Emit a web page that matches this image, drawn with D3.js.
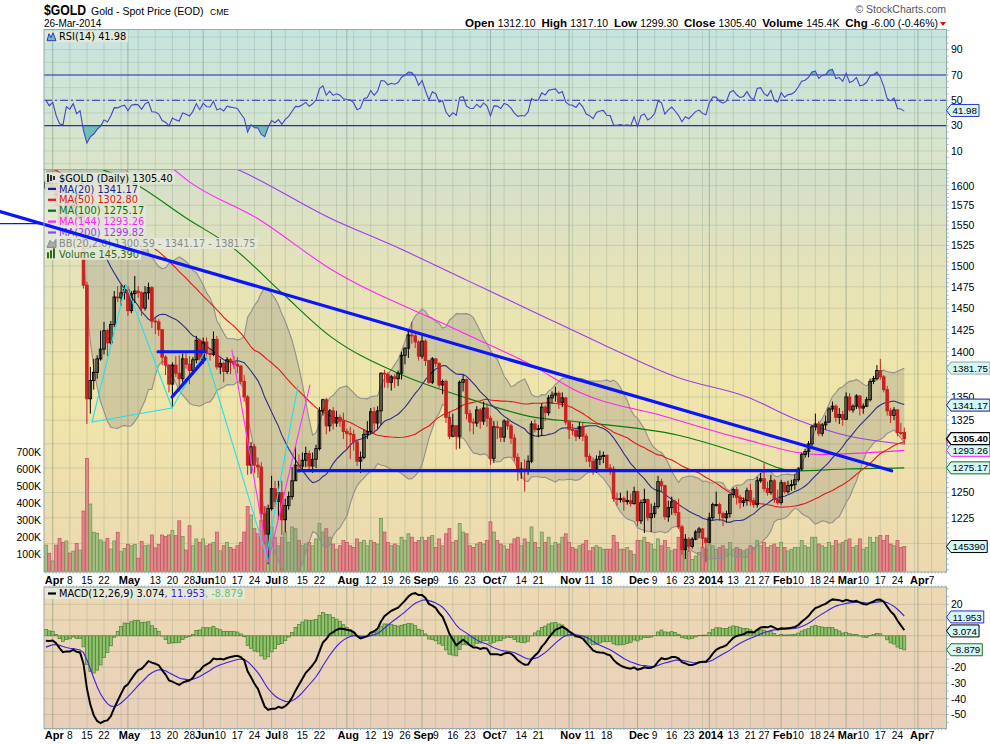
<!DOCTYPE html>
<html><head><meta charset="utf-8"><title>$GOLD</title>
<script src="https://cdn.jsdelivr.net/npm/d3@7/dist/d3.min.js"></script>
<style>html,body{margin:0;padding:0;background:#fff;}svg{display:block;}</style>
</head><body>
<svg id="chart" width="990" height="744"></svg>
<script>
// ================= DATA =================
const holidays = ["2013-03-29","2013-05-27","2013-07-04","2013-09-02","2013-11-28","2013-12-25","2014-01-01","2014-01-20","2014-02-17","2014-04-18"];
const firstDay = "2013-03-27", axisEndDay = "2014-04-11";

// closes before the first visible day (Jan 2 – Mar 26 2013), used to warm up indicators
const preCloses = [1687,1664,1656,1647,1661,1656,1676,1662,1668,1681,1681,1688,1688,1692,1685,1668,1658,1655,1662,1677,1662,
1669,1676,1673,1676,1671,1667,1649,1649,1644,1636,1610,1603,1564,1576,1582,1593,1613,1596,1578,
1575,1573,1574,1576,1582,1577,1578,1592,1588,1589,1593,1604,1612,1608,1613,1606,1605,1597];

const opens = [1597,1605,
1596,1601,1576,1553,1550,1580,1574,1585,1558,1564,1477,1348,1368,1377,1392,1403,1424,1410,1431,1463,1462,1468,
1472,1447,1467,1470,1468,1450,1468,1474,1435,1434,1425,1394,1385,1364,1385,1376,1370,1392,1386,1379,1391,1413,
1391,1411,1398,1397,1414,1383,1387,1378,1391,1388,1386,1384,1367,1350,1278,1297,1278,1276,1229,1209,
1234,1254,1241,1250,1223,1237,1246,1262,1278,1277,1283,1290,1277,1284,1295,1335,1347,1319,1335,1322,1328,1324,
1313,1311,1310,1302,1282,1286,1310,1313,1334,1322,1335,1376,1375,1366,1372,1370,1376,1396,1404,1419,1418,1411,
1395,1412,1390,1366,1392,1387,1363,1367,1328,1308,1319,1308,1366,1369,1332,1323,1322,1336,1324,1338,
1327,1285,1318,1317,1307,1324,1319,1306,1286,1272,1274,1272,1282,1321,1315,1316,1339,1333,1349,1352,1354,1344,1349,
1323,1315,1314,1308,1318,1308,1287,1282,1272,1284,1287,1288,1275,1274,1244,1243,1244,1241,1242,1239,
1251,1222,1240,1243,1225,1229,1236,1261,1257,1226,1235,1241,1230,1216,1194,1204,1197,1204,1211,1214,1205,
1201,1225,1238,1238,1229,1225,1229,1248,1253,1245,1240,1242,1252,1242,1238,1262,1264,1254,1250,1262,1243,
1240,1260,1251,1257,1258,1263,1274,1289,1292,1300,1318,1321,1311,1320,1323,1337,1340,1328,1331,
1326,1350,1336,1340,1351,1338,1340,1347,1367,1370,1379,1372,1358,1335,1330,1336,1312,1312.1];

const highs = [1607,1606,
1604,1605,1582,1563,1587,1581,1588,1589,1568,1565,1481,1383,1392,1396,1424,1434,1426,1435,1470,1476,1477,1477,
1476,1470,1488,1476,1470,1476,1480,1476,1439,1437,1426,1396,1386,1388,1395,1396,1398,1398,1395,1394,1418,1415,
1416,1416,1404,1423,1418,1392,1389,1394,1393,1395,1394,1385,1374,1352,1302,1300,1286,1281,1236,1238,
1267,1262,1262,1262,1244,1251,1276,1297,1289,1291,1297,1293,1291,1299,1339,1348,1349,1337,1339,1335,1331,1333,
1316,1318,1315,1305,1292,1315,1324,1338,1339,1340,1377,1380,1377,1374,1375,1379,1400,1405,1424,1434,1420,1413,
1421,1414,1391,1394,1393,1388,1369,1369,1334,1332,1320,1368,1374,1370,1336,1327,1340,1338,1345,1343,
1330,1324,1324,1318,1326,1326,1321,1310,1290,1281,1284,1288,1324,1326,1320,1343,1341,1352,1356,1361,1356,1355,1350,
1325,1321,1316,1323,1322,1311,1290,1286,1288,1293,1292,1289,1279,1277,1250,1250,1246,1252,1249,1256,
1252,1243,1254,1244,1239,1240,1267,1264,1258,1242,1246,1243,1244,1218,1209,1206,1206,1213,1216,1215,1206,
1230,1240,1251,1240,1231,1232,1249,1255,1256,1248,1245,1255,1259,1245,1266,1270,1280,1261,1268,1264,1253,
1263,1261,1262,1263,1269,1276,1291,1295,1303,1320,1332,1324,1322,1330,1339,1345,1342,1338,1335,
1355,1354,1342,1353,1352,1343,1350,1370,1373,1385,1392,1374,1362,1338,1339,1337,1322,1317.1];

const lows = [1593,1591,
1594,1574,1546,1539,1548,1566,1570,1555,1553,1473,1321,1332,1358,1370,1390,1397,1395,1408,1428,1457,1453,1460,
1441,1444,1456,1462,1441,1447,1460,1427,1420,1418,1385,1374,1355,1338,1372,1362,1366,1381,1364,1374,1387,1388,
1386,1392,1390,1395,1380,1375,1366,1375,1375,1381,1376,1364,1345,1268,1269,1270,1265,1221,1199,1180,
1232,1236,1223,1208,1211,1233,1243,1262,1270,1273,1276,1271,1270,1275,1293,1330,1310,1313,1315,1318,1318,1305,
1294,1284,1293,1277,1270,1284,1305,1310,1311,1316,1320,1360,1360,1357,1360,1362,1369,1386,1393,1409,1404,1390,
1392,1384,1364,1364,1383,1360,1353,1322,1305,1307,1294,1295,1356,1326,1313,1310,1318,1316,1320,1318,
1278,1280,1305,1302,1302,1315,1300,1282,1262,1264,1251,1268,1280,1312,1307,1308,1324,1330,1343,1345,1337,1339,1320,
1305,1309,1303,1305,1303,1281,1276,1268,1270,1278,1280,1272,1268,1241,1237,1240,1232,1238,1236,1238,
1217,1219,1210,1222,1211,1225,1234,1250,1223,1221,1228,1227,1214,1189,1185,1192,1195,1203,1205,1196,1182,
1200,1223,1236,1222,1217,1220,1225,1245,1238,1234,1236,1237,1237,1235,1235,1260,1251,1247,1248,1240,1238,
1238,1249,1249,1252,1253,1261,1272,1286,1286,1296,1314,1308,1308,1315,1322,1334,1323,1321,1319,
1325,1334,1333,1337,1330,1332,1339,1345,1364,1368,1369,1355,1330,1322,1325,1308,1309,1299.3];

const closes = [1605,1596,
1601,1576,1553,1550,1580,1574,1585,1558,1564,1477,1348,1368,1377,1392,1403,1424,1410,1431,1463,1462,1468,1472,
1447,1467,1470,1468,1450,1468,1474,1435,1434,1425,1394,1385,1364,1385,1376,1370,1392,1386,1379,1391,1413,1391,
1411,1398,1397,1414,1383,1387,1378,1391,1388,1386,1384,1367,1350,1278,1297,1278,1276,1229,1209,1234,
1254,1241,1250,1223,1237,1246,1262,1278,1277,1283,1290,1277,1284,1295,1335,1347,1319,1335,1322,1328,1324,1313,
1311,1310,1302,1282,1286,1310,1313,1334,1322,1335,1376,1375,1366,1372,1370,1376,1396,1404,1419,1418,1411,1395,
1412,1390,1366,1392,1387,1363,1367,1328,1308,1319,1308,1366,1369,1332,1323,1322,1336,1324,1338,1327,
1285,1318,1317,1307,1324,1319,1306,1286,1272,1274,1272,1282,1321,1315,1316,1339,1333,1349,1352,1354,1344,1349,1323,
1315,1314,1308,1318,1308,1287,1282,1272,1284,1287,1288,1275,1274,1244,1243,1244,1241,1242,1239,1251,
1222,1240,1243,1225,1229,1236,1261,1257,1226,1235,1241,1230,1216,1194,1204,1197,1204,1211,1214,1205,1201,
1225,1238,1238,1229,1225,1229,1248,1253,1245,1240,1242,1252,1242,1238,1262,1264,1254,1250,1262,1243,1240,
1260,1251,1257,1258,1263,1274,1289,1292,1300,1318,1321,1311,1320,1323,1337,1340,1328,1331,1326,
1350,1336,1340,1351,1338,1340,1347,1367,1370,1379,1372,1358,1335,1330,1336,1312,1311,1305.4];

// volume in thousands
const volumesK = [154,106,
61,154,193,170,178,107,119,164,125,353,661,394,229,223,184,172,193,131,178,229,115,135,
158,150,158,77,176,150,154,213,137,158,213,204,213,240,209,296,204,125,267,150,190,170,
190,150,160,170,230,120,150,170,140,130,150,170,230,380,330,250,220,300,380,350,
260,200,150,200,230,170,260,250,180,150,160,170,150,190,280,230,250,200,160,130,150,180,
170,150,140,190,170,180,150,180,170,160,310,230,170,150,160,150,200,180,220,200,170,180,
200,180,200,210,140,190,150,220,250,170,180,280,230,220,150,140,160,170,160,180,
290,230,180,160,150,130,160,190,200,150,190,170,260,170,140,230,170,200,150,170,160,200,220,
170,140,130,150,160,180,120,140,150,140,130,130,130,210,170,130,130,140,120,100,
180,180,200,170,160,130,190,150,180,140,120,130,200,210,150,120,70,90,110,140,130,
160,150,130,140,150,130,170,130,140,130,120,130,150,140,180,150,170,140,150,160,140,
170,140,120,130,140,140,180,150,140,200,200,160,150,140,170,150,180,160,170,
180,190,140,150,190,130,140,200,170,200,210,180,210,160,150,180,140,145.39];

// long moving averages (date, value)
const ma100Pts = [["2013-04-15",1628],["2013-05-02",1605],["2013-05-24",1559],["2013-06-14",1521],["2013-07-05",1468],["2013-07-25",1418],["2013-08-22",1376],["2013-09-20",1349],["2013-10-18",1328],["2013-11-06",1323],["2013-12-18",1309],["2014-01-17",1288],["2014-02-07",1272],["2014-03-03",1274],["2014-03-26",1275.17]];
const ma144Pts = [["2013-05-16",1630],["2013-05-28",1605],["2013-06-25",1558],["2013-07-25",1497],["2013-09-16",1427],["2013-10-17",1385],["2013-11-06",1355],["2013-12-11",1330],["2014-01-15",1306],["2014-02-19",1289],["2014-03-26",1293.26]];
const ma200Pts = [["2013-06-10",1630],["2013-06-17",1621],["2013-07-25",1559],["2013-08-22",1522],["2013-09-20",1483],["2013-10-18",1445],["2013-11-15",1408],["2013-12-18",1371],["2014-01-17",1350],["2014-02-10",1325],["2014-03-04",1308],["2014-03-26",1299.82]];

// hand-drawn annotation lines: [dayIndex1, price1, dayIndex2, price2]
const blueThick = [[-13.41,1567,247.3,1272.2],[73.7,1272.3,219.9,1272.3],[32.8,1400,46.5,1400],[36.9,1350,46.5,1392]];
const blueThin = [[-13.41,1552,-0.54,1552]];
const cyanLines = [[13.5,1323,23.4,1478],[23.4,1478,36.9,1338],[13.5,1323,36.9,1338],[36.9,1338,46.5,1400],[46.5,1400,65,1182],[64.6,1190,73.7,1362]];
const magentaLines = [[54.4,1402,64.9,1186],[65,1182,77.2,1363]];

// axis ticks
const priceTicks = [1200,1225,1250,1275,1300,1325,1350,1375,1400,1425,1450,1475,1500,1525,1550,1575,1600];
const volTicks = [100,200,300,400,500,600,700];
const rsiTicks = [10,30,50,70,90];
const macdTicks = [20,10,0,-10,-20,-30,-40,-50];
const dateTicks = [["2013-04-01","Apr"],["2013-04-08","8"],["2013-04-15","15"],["2013-04-22","22"],["2013-05-01","May"],["2013-05-13","13"],["2013-05-20","20"],["2013-05-28","28"],["2013-06-03","Jun"],["2013-06-10","10"],["2013-06-17","17"],["2013-06-24","24"],["2013-07-01","Jul"],["2013-07-08","8"],["2013-07-15","15"],["2013-07-22","22"],["2013-08-01","Aug"],["2013-08-12","12"],["2013-08-19","19"],["2013-08-26","26"],["2013-09-03","Sep"],["2013-09-09","9"],["2013-09-16","16"],["2013-09-23","23"],["2013-10-01","Oct"],["2013-10-07","7"],["2013-10-14","14"],["2013-10-21","21"],["2013-11-01","Nov"],["2013-11-11","11"],["2013-11-18","18"],["2013-12-02","Dec"],["2013-12-09","9"],["2013-12-16","16"],["2013-12-23","23"],["2014-01-02","2014"],["2014-01-13","13"],["2014-01-21","21"],["2014-01-27","27"],["2014-02-03","Feb"],["2014-02-10","10"],["2014-02-18","18"],["2014-02-24","24"],["2014-03-03","Mar"],["2014-03-10","10"],["2014-03-17","17"],["2014-03-24","24"],["2014-04-01","Apr"],["2014-04-07","7"]];

// last values printed by the chart
const lastVals = {open:"1312.10",high:"1317.10",low:"1299.30",close:"1305.40",volume:"145.4K",chg:"-6.00 (-0.46%)",
  ma20:1341.17, ma50:1302.80, ma100:1275.17, ma144:1293.26, ma200:1299.82, bbLo:1300.59, bbUp:1381.75, vol:145390,
  rsi:41.98, macd:3.074, signal:11.953, hist:-8.879};

// ================= CHART =================
const N = closes.length;
[opens,highs,lows,volumesK].forEach(a=>{ if(a.length!==N) throw new Error("length mismatch "+a.length+" vs "+N); });

const svg = d3.select("#chart");
const L = 44, R = 946.5;
const rsiT = 29.5, rsiB = 169.5, prT = 169.5, prB = 572, mcT = 587, mcB = 728.5;
const FS = "'Liberation Sans',Arial,sans-serif", FV = "'DejaVu Sans',Verdana,sans-serif";

const parse = d3.utcParse("%Y-%m-%d"), fmt = d3.utcFormat("%Y-%m-%d");
const hol = new Set(holidays);
const days = [];
for (let d = parse(firstDay); d <= parse(axisEndDay); d = d3.utcDay.offset(d, 1)) {
  const w = d.getUTCDay();
  if (w === 0 || w === 6 || hol.has(fmt(d))) continue;
  days.push(d);
}
const idx = new Map(days.map((d, i) => [fmt(d), i]));
const kOf = s => idx.get(s);

const x = d3.scaleLinear().domain([0, N - 1]).range([45.86, 45.86 + 3.42 * (N - 1)]);
const yP = d3.scaleLog().domain([1172.7, 1621.0]).range([prB, prT]);
const yV = d3.scaleLinear().domain([0, 700]).range([571.4, 451.7]);
const yR = d3.scaleLinear().domain([0, 100]).range([163.6, 37]);
const yM = d3.scaleLinear().domain([-50, 20]).range([714.5, 604.3]);

// ---- indicators (chart's own formulas) ----
const allC = preCloses.concat(closes), P = preCloses.length;
function sma(n) { return closes.map((c, k) => { const j = P + k; if (j < n - 1) return null; let s = 0; for (let t = j - n + 1; t <= j; t++) s += allC[t]; return s / n; }); }
const ma20 = sma(20), ma50 = sma(50);
const bb = closes.map((c, k) => { const j = P + k; const w = allC.slice(j - 19, j + 1); const m = d3.mean(w); const sd = Math.sqrt(d3.mean(w, v => (v - m) * (v - m))); return [m - 2 * sd, m + 2 * sd]; });
function ema(arr, n) { const a = 2 / (n + 1); let e = arr[0]; return arr.map((v, i) => (e = i === 0 ? v : a * v + (1 - a) * e)); }
const e12 = ema(allC, 12), e26 = ema(allC, 26);
const macdAll = e12.map((v, i) => v - e26[i]);
const sigAll = ema(macdAll, 9);
const macd = macdAll.slice(P), sig = sigAll.slice(P), hist = macd.map((v, i) => v - sig[i]);
const rsiAll = (() => { const out = new Array(allC.length).fill(null); let g = 0, l = 0;
  for (let i = 1; i <= 14; i++) { const d = allC[i] - allC[i - 1]; if (d > 0) g += d; else l -= d; }
  g /= 14; l /= 14; out[14] = 100 - 100 / (1 + g / l);
  for (let i = 15; i < allC.length; i++) { const d = allC[i] - allC[i - 1]; g = (g * 13 + Math.max(d, 0)) / 14; l = (l * 13 + Math.max(-d, 0)) / 14; out[i] = 100 - 100 / (1 + g / l); }
  return out; })();
const rsi = rsiAll.slice(P);

// ---- defs ----
const defs = svg.append("defs");
function grad(id, stops) { const g = defs.append("linearGradient").attr("id", id).attr("x1", 0).attr("y1", 0).attr("x2", 0).attr("y2", 1); stops.forEach(([o, c]) => g.append("stop").attr("offset", o).attr("stop-color", c)); }
grad("gR", [[0, "#c6e4e0"], [1, "#dbe4c9"]]);
grad("gP", [[0, "#d4e0cc"], [0.3, "#e8e3b6"], [0.55, "#f0e5a9"], [1, "#ecd9b1"]]);
grad("gM", [[0, "#edd9b3"], [1, "#e8cfbb"]]);
function clip(id, y0, y1) { defs.append("clipPath").attr("id", id).append("rect").attr("x", L).attr("y", y0).attr("width", R - L).attr("height", y1 - y0); }
clip("cR", rsiT, rsiB); clip("cP", prT, prB); clip("cM", mcT, mcB);
clip("cRlo", yR(30), rsiB); clip("cRhi", rsiT, yR(70));

// ---- panel backgrounds ----
svg.append("rect").attr("x", L).attr("y", rsiT).attr("width", R - L).attr("height", rsiB - rsiT).attr("fill", "url(#gR)");
svg.append("rect").attr("x", L).attr("y", prT).attr("width", R - L).attr("height", prB - prT).attr("fill", "url(#gP)");
svg.append("rect").attr("x", L).attr("y", mcT).attr("width", R - L).attr("height", mcB - mcT).attr("fill", "url(#gM)");

// ---- vertical grid ----
const grid = svg.append("g");
const weekK = [], monthK = [];
days.forEach((d, i) => {
  if (i === 0) return;
  const p = days[i - 1];
  if (d.getUTCMonth() !== p.getUTCMonth()) monthK.push(i);
  else if (+d3.utcMonday.floor(d) !== +d3.utcMonday.floor(p)) weekK.push(i);
});
[[rsiT, rsiB], [prT, prB], [mcT, mcB]].forEach(([a, b]) => {
  grid.selectAll(null).data(weekK).join("line").attr("x1", x).attr("x2", x).attr("y1", a).attr("y2", b).attr("stroke", "#7f9a86").attr("stroke-opacity", 0.28).attr("stroke-width", 1);
  grid.selectAll(null).data(monthK).join("line").attr("x1", x).attr("x2", x).attr("y1", a).attr("y2", b).attr("stroke", "#6f8a76").attr("stroke-opacity", 0.5).attr("stroke-width", 1);
});
grid.selectAll(null).data(priceTicks).join("line").attr("x1", L).attr("x2", R).attr("y1", yP).attr("y2", yP).attr("stroke", "#7f9a86").attr("stroke-opacity", 0.28);
grid.selectAll(null).data(d3.range(0, 101, 10)).join("line").attr("x1", L).attr("x2", R).attr("y1", yR).attr("y2", yR).attr("stroke", "#7f9a86").attr("stroke-opacity", 0.25);
grid.selectAll(null).data(macdTicks).join("line").attr("x1", L).attr("x2", R).attr("y1", yM).attr("y2", yM).attr("stroke", "#8a8a70").attr("stroke-opacity", 0.3);

// ================= RSI =================
const gR = svg.append("g").attr("clip-path", "url(#cR)");
const rsiPts = rsi.map((v, k) => [k, v]);
gR.append("path").attr("clip-path", "url(#cRlo)").datum(rsiPts).attr("fill", "#6fbdb7")
  .attr("d", d3.area().x(d => x(d[0])).y0(yR(30)).y1(d => yR(d[1])));
gR.append("path").attr("clip-path", "url(#cRhi)").datum(rsiPts).attr("fill", "#6fbdb7")
  .attr("d", d3.area().x(d => x(d[0])).y0(yR(70)).y1(d => yR(d[1])));
[70, 30].forEach(v => gR.append("line").attr("x1", L).attr("x2", R).attr("y1", yR(v)).attr("y2", yR(v)).attr("stroke", "#2d2dbb").attr("stroke-width", 1.2));
gR.append("line").attr("x1", L).attr("x2", R).attr("y1", yR(50)).attr("y2", yR(50)).attr("stroke", "#2d2dbb").attr("stroke-width", 1.1).attr("stroke-dasharray", "8,3,2,3");
gR.append("path").datum(rsiPts).attr("fill", "none").attr("stroke", "#4444cc").attr("stroke-width", 1.1)
  .attr("d", d3.line().x(d => x(d[0])).y(d => yR(d[1])));

// ================= PRICE =================
const gP = svg.append("g").attr("clip-path", "url(#cP)");
const up = closes.map((c, k) => k === 0 ? c >= preCloses[P - 1] : c >= closes[k - 1]);
gP.append("g").selectAll("rect").data(volumesK).join("rect")
  .attr("x", (v, k) => x(k) - 1.5).attr("width", 3).attr("y", v => yV(v)).attr("height", v => yV(0) - yV(v))
  .attr("fill", (v, k) => up[k] ? "#a4bf82" : "#e0898c").attr("stroke", (v, k) => up[k] ? "#6c9050" : "#c4505a").attr("stroke-width", 0.7);
const bbPts = bb.map((b, k) => [k, b[0], b[1]]);
gP.append("path").datum(bbPts).attr("fill", "#8a8a80").attr("fill-opacity", 0.3)
  .attr("d", d3.area().x(d => x(d[0])).y0(d => yP(d[1])).y1(d => yP(d[2])));
[1, 2].forEach(j => {
  gP.append("path").datum(bbPts).attr("fill", "none").attr("stroke", "#8f8f8f").attr("stroke-width", 1.1)
    .attr("d", d3.line().x(d => x(d[0])).y(d => yP(d[j])));
});
function ptsLine(pts, color) {
  gP.append("path").datum(pts.map(([d, v]) => [kOf(d), v])).attr("fill", "none").attr("stroke", color).attr("stroke-width", 1.1)
    .attr("d", d3.line().curve(d3.curveMonotoneX).x(d => x(d[0])).y(d => yP(d[1])));
}
ptsLine(ma200Pts, "#9b3ee8");
ptsLine(ma144Pts, "#ff22ff");
ptsLine(ma100Pts, "#0b7a0b");
const lineK = () => d3.line().defined(d => d[1] != null).x(d => x(d[0])).y(d => yP(d[1]));
gP.append("path").datum(ma50.map((v, k) => [k, v])).attr("fill", "none").attr("stroke", "#e01818").attr("stroke-width", 1.1).attr("d", lineK());
gP.append("path").datum(ma20.map((v, k) => [k, v])).attr("fill", "none").attr("stroke", "#2c2c8c").attr("stroke-width", 1.1).attr("d", lineK());
const cg = gP.append("g");
closes.forEach((c, k) => {
  const o = opens[k], col = up[k] ? "#000" : "#cc2020";
  cg.append("line").attr("x1", x(k)).attr("x2", x(k)).attr("y1", yP(highs[k])).attr("y2", yP(lows[k])).attr("stroke", col).attr("stroke-width", 1);
  const top = yP(Math.max(o, c)), bot = yP(Math.min(o, c));
  cg.append("rect").attr("x", x(k) - 1.3).attr("width", 2.6).attr("y", top).attr("height", Math.max(bot - top, 0.8))
    .attr("fill", c < o ? col : "none").attr("stroke", col).attr("stroke-width", 0.9);
});

// ================= MACD =================
const gM = svg.append("g").attr("clip-path", "url(#cM)");
gM.append("g").selectAll("rect").data(hist).join("rect")
  .attr("x", (v, k) => x(k) - 1.5).attr("width", 3)
  .attr("y", v => Math.min(yM(0), yM(v))).attr("height", v => Math.abs(yM(v) - yM(0)))
  .attr("fill", "#8ec46c").attr("stroke", "#4c7d30").attr("stroke-width", 0.7);
gM.append("path").datum(sig.map((v, k) => [k, v])).attr("fill", "none").attr("stroke", "#3a22dd").attr("stroke-width", 1.1)
  .attr("d", d3.line().x(d => x(d[0])).y(d => yM(d[1])));
gM.append("path").datum(macd.map((v, k) => [k, v])).attr("fill", "none").attr("stroke", "#000").attr("stroke-width", 2)
  .attr("d", d3.line().x(d => x(d[0])).y(d => yM(d[1])));

// ================= LEGENDS =================
function legendRow(y, parts, icon) {
  const g = svg.append("g");
  const bg = g.append("rect");
  const t = g.append("text").attr("x", 59).attr("y", y + 3.6).attr("font-family", FV).attr("font-size", 9.8);
  parts.forEach(([s, c]) => t.append("tspan").attr("fill", c).text(s));
  const w = t.node().getComputedTextLength();
  bg.attr("x", L + 1).attr("y", y - 5.5).attr("width", 59 + w - L + 1).attr("height", 11).attr("fill", "#e4e9d9").attr("fill-opacity", 0.9);
  if (icon) icon(g, y);
}
const dash = c => (g, y) => g.append("line").attr("x1", 48).attr("x2", 56).attr("y1", y).attr("y2", y).attr("stroke", c).attr("stroke-width", 2.2);
legendRow(36.7, [["RSI(14) " + lastVals.rsi.toFixed(2), "#000"]], (g, y) => g.append("path").attr("d", `M47,${y + 4} L49,${y - 3} L51,${y + 1} L53,${y - 4} L56,${y + 4} Z`).attr("fill", "#6fbdb7").attr("stroke", "#3333cc"));
const legY = [178, 188.9, 199.8, 210.7, 221.6, 232.5, 243.4, 254.3];
legendRow(legY[0], [["$GOLD (Daily) " + lastVals.close, "#000"]], (g, y) => { [48, 51, 54].forEach((xx, i) => g.append("line").attr("x1", xx).attr("x2", xx).attr("y1", y - 4 + i).attr("y2", y + 4 - i).attr("stroke", "#000").attr("stroke-width", 1.6)); });
legendRow(legY[1], [["MA(20) " + lastVals.ma20.toFixed(2), "#1c1c8c"]], dash("#1c1c8c"));
legendRow(legY[2], [["MA(50) " + lastVals.ma50.toFixed(2), "#e01818"]], dash("#e01818"));
legendRow(legY[3], [["MA(100) " + lastVals.ma100.toFixed(2), "#0b6e0b"]], dash("#0b6e0b"));
legendRow(legY[4], [["MA(144) " + lastVals.ma144.toFixed(2), "#ff22ff"]], dash("#ff22ff"));
legendRow(legY[5], [["MA(200) " + lastVals.ma200.toFixed(2), "#9b3ee8"]], dash("#9b3ee8"));
legendRow(legY[6], [["BB(20,2.0) " + lastVals.bbLo.toFixed(2) + " - " + lastVals.ma20.toFixed(2) + " - " + lastVals.bbUp.toFixed(2), "#8a8a8a"]], (g, y) => g.append("path").attr("d", `M47,${y + 4} L50,${y - 3} L53,${y} L56,${y - 4} L56,${y + 4} Z`).attr("fill", "#aaa").attr("stroke", "#888"));
legendRow(legY[7], [["Volume " + d3.format(",")(lastVals.vol), "#2e6a12"]], (g, y) => { [48, 51, 54].forEach((xx, i) => g.append("rect").attr("x", xx - 1).attr("y", y - 2 - i * 2).attr("width", 2).attr("height", 6 + i * 2).attr("fill", "#2e6a12")); });
legendRow(593.5, [["MACD(12,26,9) " + lastVals.macd.toFixed(3), "#000"], [", " + lastVals.signal.toFixed(3), "#3a22dd"], [", " + lastVals.hist.toFixed(3), "#6cc06c"]], dash("#000"));

// ================= ANNOTATIONS =================
const ann = svg.append("g");
function annLines(arr, color, w) {
  ann.selectAll(null).data(arr).join("line").attr("x1", d => x(d[0])).attr("y1", d => yP(d[1])).attr("x2", d => x(d[2])).attr("y2", d => yP(d[3]))
    .attr("stroke", color).attr("stroke-width", w).attr("stroke-linecap", "round");
}
annLines(cyanLines, "#22e0f0", 1.1);
annLines(magentaLines, "#ff33ff", 1.1);
annLines(blueThick, "#0a14ff", 3.2);
annLines(blueThin, "#0a14ff", 1.2);

// ================= FRAMES =================
[[rsiT, rsiB], [prT, prB], [mcT, mcB]].forEach(([a, b]) => svg.append("rect").attr("x", L).attr("y", a).attr("width", R - L).attr("height", b - a).attr("fill", "none").attr("stroke", "#93abab").attr("stroke-width", 1));
const dticks = svg.append("g");
d3.range(0, 264).forEach(k => { if (x(k) < L || x(k) > R) return;
  dticks.append("line").attr("x1", x(k)).attr("x2", x(k)).attr("y1", prB).attr("y2", prB + 1.5).attr("stroke", "#9ab0b0");
  dticks.append("line").attr("x1", x(k)).attr("x2", x(k)).attr("y1", mcT - 1.5).attr("y2", mcT).attr("stroke", "#9ab0b0");
  dticks.append("line").attr("x1", x(k)).attr("x2", x(k)).attr("y1", mcB).attr("y2", mcB + 1.5).attr("stroke", "#9ab0b0");
});
for (let p = 1175; p <= 1620; p += 5) svg.append("line").attr("x1", R).attr("x2", R + 2).attr("y1", yP(p)).attr("y2", yP(p)).attr("stroke", "#9ab0b0");
for (let v = 0; v <= 105; v += 5) svg.append("line").attr("x1", R).attr("x2", R + 2).attr("y1", yR(v)).attr("y2", yR(v)).attr("stroke", "#9ab0b0");
for (let v = -55; v <= 30; v += 5) svg.append("line").attr("x1", R).attr("x2", R + 2).attr("y1", yM(v)).attr("y2", yM(v)).attr("stroke", "#9ab0b0");

// ================= TAG POSITIONS (labels fully under a tag are not drawn, as in the source) =================
const priceTagY = [lastVals.bbUp, lastVals.ma20, +lastVals.close, lastVals.ma50, lastVals.ma200, lastVals.ma144, lastVals.ma100].map(yP).concat([yV(lastVals.vol / 1000)]);
const macdTagY = [lastVals.signal, lastVals.macd, lastVals.hist].map(yM);
const rsiTagY = [yR(lastVals.rsi)];
const free = (yy, tags) => tags.every(t => Math.abs(t - yy) > 7);

// ================= AXES =================
const ax = svg.append("g").attr("font-family", FS).attr("font-size", 10.5).attr("fill", "#000");
ax.selectAll(null).data(priceTicks.filter(d => free(yP(d), priceTagY))).join("text").attr("x", R + 4.5).attr("y", d => yP(d) + 3.8).text(d => d);
ax.selectAll(null).data(rsiTicks.filter(d => free(yR(d), rsiTagY))).join("text").attr("x", R + 4.5).attr("y", d => yR(d) + 3.8).text(d => d);
ax.selectAll(null).data(macdTicks.filter(d => free(yM(d), macdTagY))).join("text").attr("x", R + 4.5).attr("y", d => yM(d) + 3.8).text(d => d);
ax.selectAll(null).data(volTicks).join("text").attr("x", 41).attr("text-anchor", "end").attr("y", d => yV(d) + 3.8).text(d => d + "K");
[584.3, 739].forEach(yy => {
  dateTicks.forEach(([d, s]) => {
    const bold = isNaN(+s) || s.length === 4;
    ax.append("text").attr("x", x(kOf(d)) + (bold ? 1.5 : 0)).attr("y", yy).attr("text-anchor", "middle")
      .attr("font-size", bold ? 11 : 10.2).attr("font-weight", bold ? "bold" : null).text(s);
  });
});

// ================= TAGS =================
const tg = svg.append("g");
function tagAt(yc, txt, stroke, fill, bold, hideText) {
  const g = tg.append("g"); const path = g.append("path");
  const t = g.append("text").attr("x", R + 6).attr("y", yc + 3.6).attr("font-family", FS).attr("font-size", 9.8).attr("font-weight", bold ? "bold" : null).attr("fill", "#000").text(txt);
  const w = t.node().getComputedTextLength(); const h = 6;
  if (hideText) t.remove();
  path.attr("d", `M${R},${yc} L${R + 4.5},${yc - h} L${R + 8 + w},${yc - h} L${R + 8 + w},${yc + h} L${R + 4.5},${yc + h} Z`).attr("fill", fill).attr("stroke", stroke).attr("stroke-width", bold ? 1.3 : 1);
}
tagAt(yP(lastVals.bbUp), lastVals.bbUp.toFixed(2), "#8fa3a3", "#d4f7f7");
tagAt(yP(lastVals.ma20), lastVals.ma20.toFixed(2), "#1c1c8c", "#d4f7f7");
tagAt(yP(lastVals.ma100), lastVals.ma100.toFixed(2), "#0b6e0b", "#d4f7f7");
tagAt(yP(lastVals.ma50), lastVals.ma50.toFixed(2), "#e01818", "#d4f7f7", false, true);
tagAt(yP(lastVals.ma200), lastVals.ma200.toFixed(2), "#9b3ee8", "#d4f7f7", false, true);
tagAt(yP(lastVals.ma144), lastVals.ma144.toFixed(2), "#ff22ff", "#d4f7f7");
tagAt(yP(+lastVals.close), lastVals.close, "#000", "#fff", true);
tagAt(yV(lastVals.vol / 1000), String(lastVals.vol), "#000", "#d4f7f7");
tagAt(yR(lastVals.rsi), lastVals.rsi.toFixed(2), "#3333cc", "#d4f7f7");
tagAt(yM(lastVals.signal), lastVals.signal.toFixed(3), "#3a22dd", "#d4f7f7");
tagAt(yM(lastVals.macd), lastVals.macd.toFixed(3), "#000", "#d4f7f7");
tagAt(yM(lastVals.hist), lastVals.hist.toFixed(3), "#2e6a12", "#d4f7f7");

// ================= HEADER =================
const hd = svg.append("g");
hd.append("text").attr("x", 44).attr("y", 15).attr("font-family", FS).attr("font-weight", "bold").attr("font-size", 14.5)
  .attr("textLength", 42).attr("lengthAdjust", "spacingAndGlyphs").text("$GOLD");
hd.append("text").attr("x", 91).attr("y", 14.5).attr("font-family", FS).attr("font-size", 10.5).text("Gold - Spot Price (EOD)");
hd.append("text").attr("x", 210).attr("y", 14.5).attr("font-family", FS).attr("font-size", 8.5).text("CME");
hd.append("text").attr("x", 44).attr("y", 26.5).attr("font-family", FS).attr("font-size", 10).text("26-Mar-2014");
hd.append("text").attr("x", 946).attr("y", 13).attr("text-anchor", "end").attr("font-family", FS).attr("font-size", 10.5).attr("fill", "#555").text("© StockCharts.com");
const ohlc = hd.append("text").attr("x", 938).attr("y", 26.5).attr("text-anchor", "end").attr("font-family", FS).attr("font-size", 10.5).attr("xml:space", "preserve");
[["Open ", 1], [lastVals.open + "  ", 0], ["High ", 1], [lastVals.high + "  ", 0], ["Low ", 1], [lastVals.low + "  ", 0], ["Close ", 1], [lastVals.close + "  ", 0], ["Volume ", 1], [lastVals.volume + "  ", 0], ["Chg ", 1], [lastVals.chg, 0]]
  .forEach(([s, b]) => ohlc.append("tspan").attr("font-weight", b ? "bold" : null).attr("font-size", b ? 11.5 : 10.5).text(s));
hd.append("path").attr("d", "M940,22 L946,22 L943,26 Z").attr("fill", "#cc1111");
</script>
</body></html>
